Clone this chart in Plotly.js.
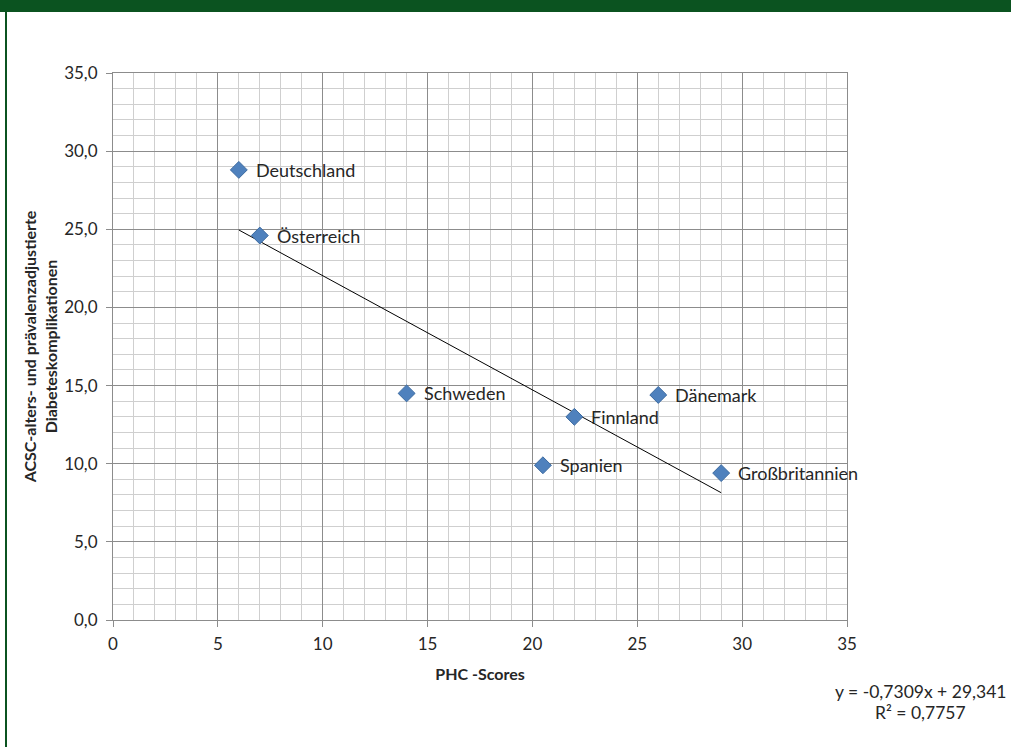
<!DOCTYPE html>
<html><head><meta charset="utf-8">
<script src="https://cdn.plot.ly/plotly-3.0.1.min.js"></script>
<style>
html,body{margin:0;padding:0;background:#fff;}
#wrap{position:relative;width:1011px;height:747px;overflow:hidden;}
#plot{position:absolute;left:0;top:0;width:1011px;height:747px;}
#topbar{position:absolute;left:0;top:0;width:1011px;height:12px;background:#0b5320;z-index:5;}
#leftbar{position:absolute;left:5px;top:0;width:2px;height:747px;background:#0b5320;z-index:5;}
</style></head>
<body><div id="wrap"><div id="plot"></div><div id="topbar"></div><div id="leftbar"></div></div>
<script>
const countries = ["Deutschland","Österreich","Schweden","Finnland","Dänemark","Spanien","Großbritannien"];
const phcScores = [6, 7, 14, 22, 26, 20.5, 29];
const acscValues = [28.8, 24.6, 14.5, 13.0, 14.4, 9.9, 9.4];
const trendSlope = -0.7309;
const trendIntercept = 29.341;
const trendR2 = 0.7757;
const xTicks = [0,5,10,15,20,25,30,35];
const yTicks = [0,5,10,15,20,25,30,35];

const xMin = Math.min(...phcScores), xMax = Math.max(...phcScores);
const trendX = [xMin, xMax];
const trendY = trendX.map(v => trendSlope*v + trendIntercept);

const fontFam = "Lato, 'Liberation Sans', sans-serif";
const txtCol = "#262626";

function fmt(v, d){ return v.toFixed(d).replace('.', ','); }

const traces = [
  {x: trendX, y: trendY, mode: 'lines', line: {color: '#000', width: 1}, hoverinfo: 'skip', showlegend: false},
  {x: phcScores, y: acscValues, mode: 'markers', type: 'scatter', showlegend: false,
   marker: {symbol: 'diamond', size: 13, color: '#4f81bd', line: {color: '#3b6aa0', width: 1}}}
];

const annotations = countries.map((c,i) => ({
  x: phcScores[i], y: acscValues[i], xref: 'x', yref: 'y', text: c, showarrow: false,
  xanchor: 'left', yanchor: 'middle', xshift: 15, font: {family: fontFam, size: 18, color: txtCol}
}));
annotations.push({
  xref: 'paper', yref: 'paper', x: 1.1008, y: -0.1316, xanchor: 'center', yanchor: 'middle', showarrow: false,
  text: 'y = ' + fmt(trendSlope,4) + 'x + ' + fmt(trendIntercept,3), font: {family: fontFam, size: 17.5, color: txtCol}
});
annotations.push({
  xref: 'paper', yref: 'paper', x: 1.1008, y: -0.170, xanchor: 'center', yanchor: 'middle', showarrow: false,
  text: 'R² = ' + fmt(trendR2,4), font: {family: fontFam, size: 17.5, color: txtCol}
});

const layout = {
  width: 1011, height: 747,
  margin: {l: 113, r: 164, t: 73, b: 127},
  paper_bgcolor: '#fff', plot_bgcolor: '#fff',
  separators: ', ',
  font: {family: fontFam, color: txtCol, size: 16},
  xaxis: {
    range: [0, 35], tickvals: xTicks, ticktext: xTicks.map(String),
    showgrid: true, gridcolor: '#8c8c8c', gridwidth: 1,
    minor: {dtick: 1, showgrid: true, gridcolor: '#cfcfcf', gridwidth: 1},
    ticks: 'outside', ticklen: 6, tickcolor: '#8c8c8c', ticklabelstandoff: 3,
    showline: true, linecolor: '#8c8c8c', mirror: true, zeroline: false,
    tickfont: {family: fontFam, size: 17, color: txtCol},
    title: {text: 'PHC -Scores', font: {family: fontFam, size: 16, color: txtCol, weight: 'bold'}, standoff: 15}
  },
  yaxis: {
    range: [0, 35], tickvals: yTicks, ticktext: yTicks.map(v => fmt(v,1)),
    showgrid: true, gridcolor: '#8c8c8c', gridwidth: 1,
    minor: {dtick: 1, showgrid: true, gridcolor: '#cfcfcf', gridwidth: 1},
    ticks: 'outside', ticklen: 6, tickcolor: '#8c8c8c', ticklabelstandoff: 5,
    showline: true, linecolor: '#8c8c8c', mirror: true, zeroline: false,
    tickfont: {family: fontFam, size: 17, color: txtCol},
    title: {text: 'ACSC-alters- und prävalenzadjustierte<br>Diabeteskomplikationen', font: {family: fontFam, size: 16, color: txtCol, weight: 'bold'}, standoff: 2}
  },
  annotations: annotations
};

Plotly.newPlot('plot', traces, layout, {displayModeBar: false, staticPlot: true});
</script></body></html>
